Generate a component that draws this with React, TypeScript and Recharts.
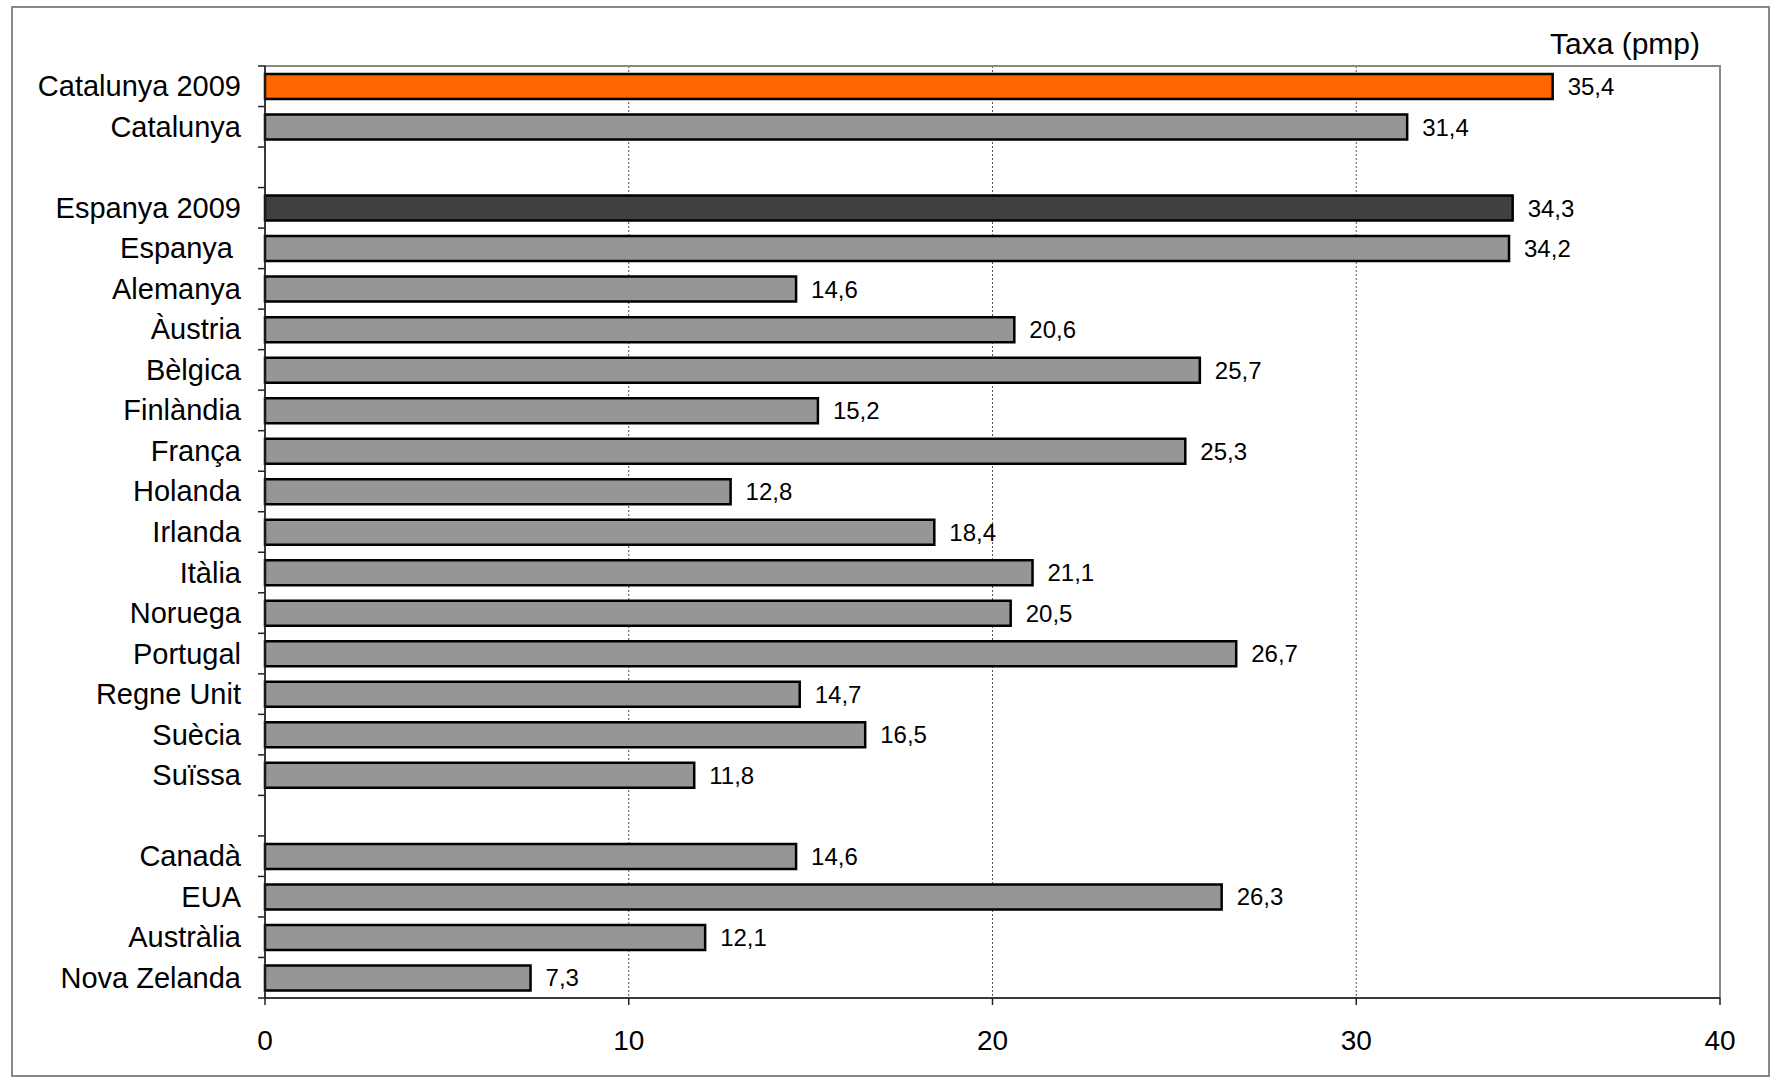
import { BarChart, Bar, XAxis, YAxis, CartesianGrid, ReferenceArea, LabelList, Cell } from 'recharts';

// Blank strings are the empty rows that separate the groups
const categories = [
  'Catalunya 2009', 'Catalunya', '',
  'Espanya 2009', 'Espanya\u00a0', 'Alemanya', 'Àustria', 'Bèlgica', 'Finlàndia', 'França', 'Holanda',
  'Irlanda', 'Itàlia', 'Noruega', 'Portugal', 'Regne Unit', 'Suècia', 'Suïssa', '',
  'Canadà', 'EUA', 'Austràlia', 'Nova Zelanda',
];
const values: (number | null)[] = [
  35.4, 31.4, null,
  34.3, 34.2, 14.6, 20.6, 25.7, 15.2, 25.3, 12.8,
  18.4, 21.1, 20.5, 26.7, 14.7, 16.5, 11.8, null,
  14.6, 26.3, 12.1, 7.3,
];
const xTicks = [0, 10, 20, 30, 40];
const unitLabel = 'Taxa (pmp)';

const HIGHLIGHT: Record<string, string> = {
  'Catalunya 2009': '#FF6600',
  'Espanya 2009': '#404040',
};
const BAR_FILL = '#969696';

const W = 1783;
const H = 1081;
const X_HEIGHT = 30;
const MARGIN = { top: 66, right: 63, bottom: 83 - X_HEIGHT, left: 0 };
const Y_WIDTH = 265;
const BAND = (H - MARGIN.top - MARGIN.bottom - X_HEIGHT) / categories.length;
const FONT = "'Liberation Sans', Arial, sans-serif";

const data = categories.map((name, i) => ({ key: `c${i}`, name, value: values[i] }));

function CategoryTick(props: any) {
  const { x, y, payload, index } = props;
  const row = data.find((d) => d.key === payload.value);
  const last = index === data.length - 1;
  return (
    <g>
      <text x={x - 24} y={y} textAnchor="end" dominantBaseline="central" fontSize={29} fill="#000" fontFamily={FONT}>
        {row ? row.name : ''}
      </text>
      <line x1={x - 7} x2={x} y1={y - BAND / 2} y2={y - BAND / 2} stroke="#222" strokeWidth={1.5} />
      {last && <line x1={x - 7} x2={x} y1={y + BAND / 2} y2={y + BAND / 2} stroke="#222" strokeWidth={1.5} />}
    </g>
  );
}

const fmt = (v: any) => (v == null ? '' : String(v).replace('.', ','));

export default function App() {
  return (
    <div style={{ position: 'absolute', left: 0, top: 0, width: W, height: H, background: '#fff', fontFamily: FONT }}>
      <div
        style={{
          position: 'absolute', left: 11, top: 6, width: 1755, height: 1067,
          border: '2px solid #888',
        }}
      />
      <div
        style={{
          position: 'absolute', right: W - 1700, top: 27, fontSize: 30, color: '#000', whiteSpace: 'nowrap',
        }}
      >
        {unitLabel}
      </div>
      <div style={{ position: 'absolute', left: 0, top: 0 }}>
        <BarChart width={W} height={H} data={data} layout="vertical" margin={MARGIN}>
          <CartesianGrid horizontal={false} vertical strokeDasharray="2 2" stroke="#555" />
          <ReferenceArea x1={0} x2={40} fill="none" stroke="#888" strokeWidth={2} ifOverflow="visible" />
          <XAxis
            type="number"
            domain={[0, 40]}
            ticks={xTicks}
            height={X_HEIGHT}
            tickSize={7}
            tickMargin={25}
            tick={{ fontSize: 28, fill: '#000', fontFamily: FONT }}
            axisLine={{ stroke: '#222', strokeWidth: 1.5 }}
            tickLine={{ stroke: '#222', strokeWidth: 1.5 }}
          />
          <YAxis
            type="category"
            dataKey="key"
            width={Y_WIDTH}
            tickSize={0}
            tickMargin={0}
            tickLine={false}
            axisLine={{ stroke: '#222', strokeWidth: 1.5 }}
            tick={<CategoryTick />}
            interval={0}
          />
          <Bar dataKey="value" barSize={25} stroke="#000" strokeWidth={2.5} isAnimationActive={false}>
            {data.map((d) => (
              <Cell key={d.key} fill={HIGHLIGHT[d.name] ?? BAR_FILL} />
            ))}
            <LabelList
              dataKey="value"
              position="right"
              offset={15}
              formatter={fmt}
              style={{ fontSize: 24, fill: '#000', fontFamily: FONT }}
            />
          </Bar>
        </BarChart>
      </div>
    </div>
  );
}
